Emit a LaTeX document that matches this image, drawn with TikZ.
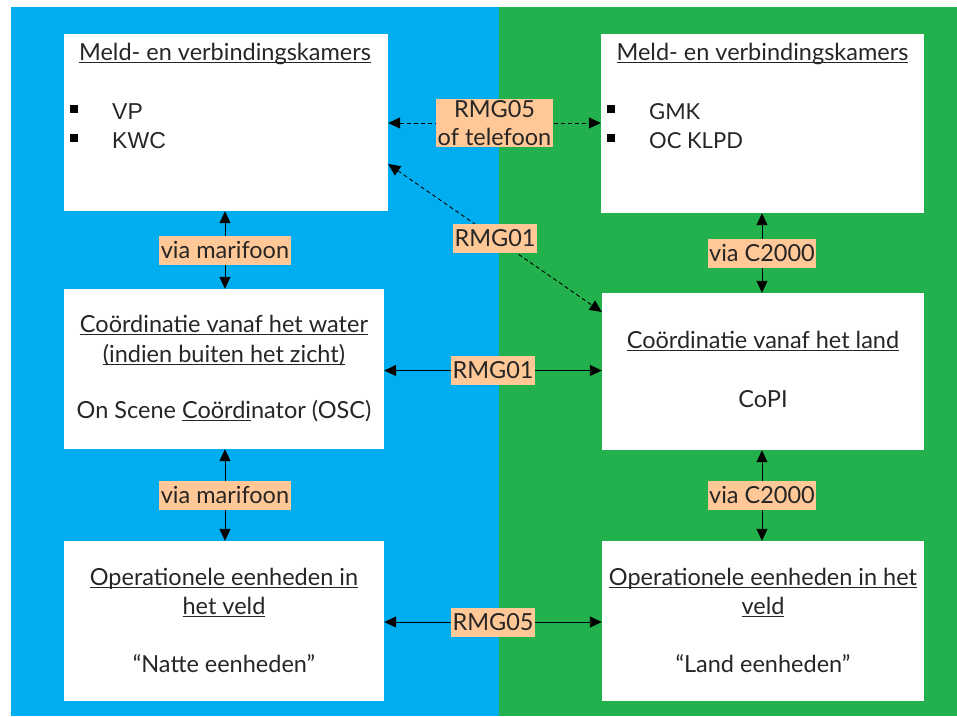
\documentclass[tikz,border=0pt]{standalone}
\usepackage{fontspec}
\setmainfont{Lato}
\newfontfamily\arialfont{Liberation Sans}
\usetikzlibrary{arrows.meta}
\definecolor{sea}{RGB}{0,174,239}
\definecolor{land}{RGB}{34,177,76}
\definecolor{peach}{RGB}{255,200,150}
\definecolor{ink}{RGB}{38,38,38}
% underline that runs just under the baseline, through descenders
\newcommand\lineunder[1]{\setbox0\hbox{#1}\rlap{\rule[-2.8pt]{\wd0}{1pt}}\box0}
\begin{document}
\begin{tikzpicture}[x=1pt,y=-1pt,
  box/.style={fill=white,inner sep=0pt},
  txt/.style={anchor=base,inner sep=0pt,text=ink,font=\fontsize{23.5}{28}\selectfont},
  item/.style={txt,anchor=base west},
  bul/.style={fill=black,minimum size=8pt,inner sep=0pt},
  lab/.style={fill=peach,text=ink,inner xsep=1.5pt,inner ysep=0pt,minimum height=29pt,
    font=\fontsize{23.5}{28}\selectfont,align=center},
  tips/.style={{Triangle[length=12pt,width=11pt]}-{Triangle[length=12pt,width=11pt]}},
  link/.style={tips,line width=0.9pt,draw=black},
  dlink/.style={link,dash pattern=on 4pt off 3pt},
]
\useasboundingbox (0,0) rectangle (957,716);

% water side and land side
\fill[sea] (11,7) rectangle (499,716);
\fill[land] (499,7) rectangle (957,716);

% boxes
\node[box,minimum width=324pt,minimum height=177pt] (mkL) at (226,122.5) {};
\node[box,minimum width=323pt,minimum height=179pt] (mkR) at (762.5,123.5) {};
\node[box,minimum width=320pt,minimum height=160pt] (coL) at (224,369) {};
\node[box,minimum width=322pt,minimum height=157pt] (coR) at (763,371.5) {};
\node[box,minimum width=320pt,minimum height=160pt] (opL) at (224,621) {};
\node[box,minimum width=322pt,minimum height=160pt] (opR) at (763,621) {};

% texts: reporting rooms
\node[txt] (mkLt) at (225,60) {\lineunder{Meld- en verbindingskamers}};
\node[bul] (bL1) at (74,109) {};
\node[bul] (bL2) at (74,138) {};
\node[item,font=\arialfont\fontsize{23}{27}\selectfont] (vp) at (112,119) {VP};
\node[item,font=\arialfont\fontsize{23}{27}\selectfont] (kwc) at (112,148) {KWC};

\node[txt] (mkRt) at (762.5,60) {\lineunder{Meld- en verbindingskamers}};
\node[bul] (bR1) at (611,109) {};
\node[bul] (bR2) at (611,138) {};
\node[item,font=\fontsize{22}{27}\selectfont] (gmk) at (649,119) {GMK};
\node[item,font=\fontsize{22}{27}\selectfont] (oc) at (649,148) {OC KLPD};

% texts: coordination
\node[txt] (coL1) at (224,332) {\lineunder{Coördinatie vanaf het water}};
\node[txt] (coL2) at (224,362) {\lineunder{(indien buiten het zicht)}};
\node[txt] (coL3) at (224,418) {On Scene \lineunder{Coördi}nator (OSC)};

\node[txt] (coR1) at (763,348) {\lineunder{Coördinatie vanaf het land}};
\node[txt] (coR2) at (763,407) {CoPI};

% texts: field units
\node[txt] (opL1) at (224,585) {\lineunder{Operationele eenheden in}};
\node[txt] (opL2) at (224,614) {\lineunder{het veld}};
\node[txt] (opL3) at (224,672) {“Natte eenheden”};

\node[txt] (opR1) at (763,585) {\lineunder{Operationele eenheden in het}};
\node[txt] (opR2) at (763,614) {\lineunder{veld}};
\node[txt] (opR3) at (763,672) {“Land eenheden”};

% connections
\coordinate (vL) at (225,0);
\coordinate (vR) at (762,0);
\draw[link] (mkL.south -| vL) -- node[lab] (m1) {via marifoon} (coL.north -| vL);
\draw[link] (coL.south -| vL) -- node[lab] (m2) {via marifoon} (opL.north -| vL);
\draw[link] (mkR.south -| vR) -- node[lab] (c1) {via C2000} (coR.north -| vR);
\draw[link] (coR.south -| vR) -- node[lab] (c2) {via C2000} (opR.north -| vR);

\coordinate (hTop) at (0,123);
\coordinate (hMid) at (0,370.5);
\coordinate (hBot) at (0,622);
\draw[dlink] (mkL.east |- hTop) -- node[lab,inner ysep=1pt] (r5t) {RMG05\\of telefoon} (mkR.west |- hTop);
\draw[link] (coL.east |- hMid) -- node[lab] (r1) {RMG01} (coR.west |- hMid);
\draw[link] (opL.east |- hBot) -- node[lab] (r5) {RMG05} (opR.west |- hBot);

\coordinate (dA) at (mkL.east |- 0,164);
\coordinate (dB) at (coR.west |- 0,312);
\draw[dlink] (dA) -- node[lab] (r1d) {RMG01} (dB);
\end{tikzpicture}
\end{document}
